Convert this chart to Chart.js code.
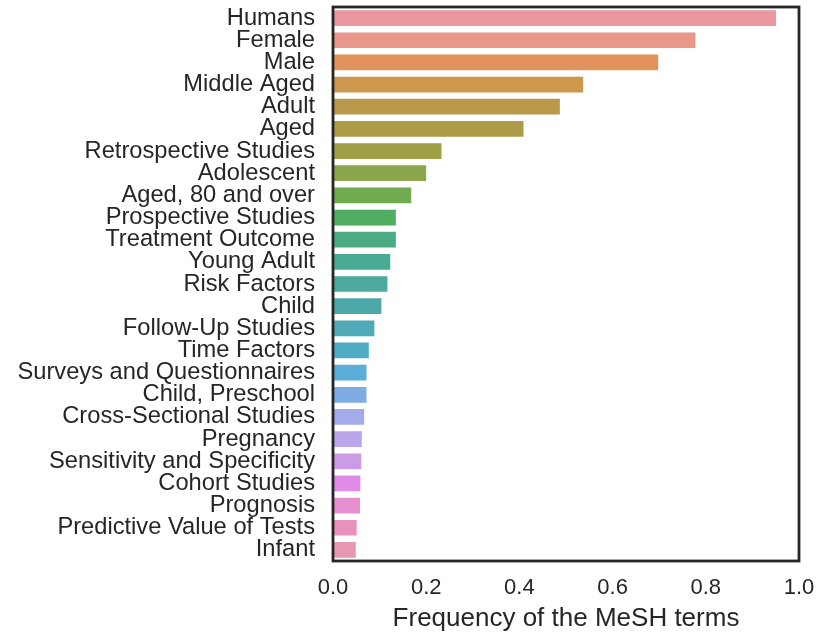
<!DOCTYPE html>
<html>
<head>
<meta charset="utf-8">
<script src="https://cdn.jsdelivr.net/npm/chart.js@4/dist/chart.umd.min.js"></script>
<style>
  html, body { margin: 0; padding: 0; background: #ffffff; }
  #wrap { width: 830px; height: 636px; }
</style>
</head>
<body>
<div id="wrap"><canvas id="meshChart" width="830" height="636"></canvas></div>
<script>
// MeSH terms, most frequent first
const meshTerms = [
  'Humans', 'Female', 'Male', 'Middle Aged', 'Adult', 'Aged',
  'Retrospective Studies', 'Adolescent', 'Aged, 80 and over',
  'Prospective Studies', 'Treatment Outcome', 'Young Adult', 'Risk Factors',
  'Child', 'Follow-Up Studies', 'Time Factors', 'Surveys and Questionnaires',
  'Child, Preschool', 'Cross-Sectional Studies', 'Pregnancy',
  'Sensitivity and Specificity', 'Cohort Studies', 'Prognosis',
  'Predictive Value of Tests', 'Infant'
];

// frequency
const termFrequency = [
  0.953, 0.780, 0.700, 0.539, 0.489, 0.411,
  0.235, 0.202, 0.170,
  0.137, 0.137, 0.125, 0.119,
  0.106, 0.091, 0.079, 0.074,
  0.074, 0.069, 0.064,
  0.063, 0.061, 0.060,
  0.053, 0.051
];

const xTickValues = [0.0, 0.2, 0.4, 0.6, 0.8, 1.0];

// husl palette (desaturated), one colour per bar
const barColours = [
  '#e9969f', '#e8978a', '#e2925b', '#ce974e', '#b99a4c', '#ac9c48',
  '#9da045', '#8ca64b', '#70ac4d', '#4fae62', '#4bac84', '#4aab93',
  '#4daa9e', '#4da9a9', '#4eaab6', '#50acc4', '#5baed8', '#7eade4',
  '#a4abea', '#baa6ea', '#cd9ae6', '#e08ce6', '#e68fd0', '#e991be',
  '#e897b0'
];

const textColour = '#262626';
const fontFamily = '"Liberation Sans", Arial, Helvetica, sans-serif';

// draws the full black frame around the plot
const frameBox = {
  id: 'frameBox',
  afterDatasetsDraw(chart) {
    const a = chart.chartArea;
    const ctx = chart.ctx;
    ctx.save();
    ctx.strokeStyle = textColour;
    ctx.lineWidth = 2.8;
    ctx.strokeRect(a.left, a.top, a.right - a.left, a.bottom - a.top);
    ctx.restore();
  }
};

const ctx = document.getElementById('meshChart').getContext('2d');
new Chart(ctx, {
  type: 'bar',
  data: {
    labels: meshTerms,
    datasets: [{
      data: termFrequency,
      backgroundColor: barColours,
      borderColor: 'rgba(255,255,255,0.35)',
      borderWidth: 1,
      borderSkipped: false,
      categoryPercentage: 1.0,
      barPercentage: 0.8
    }]
  },
  options: {
    indexAxis: 'y',
    responsive: false,
    animation: false,
    devicePixelRatio: 1,
    layout: { padding: { top: 7, right: 31, bottom: 0, left: 0 } },
    plugins: {
      legend: { display: false },
      tooltip: { enabled: false }
    },
    scales: {
      x: {
        min: 0,
        max: 1,
        afterBuildTicks(scale) {
          scale.ticks = xTickValues.map(v => ({ value: v }));
        },
        afterFit(scale) {
          scale.height = 75;
          scale.paddingLeft = 0;
          scale.paddingRight = 0;
        },
        grid: { display: false, drawTicks: false },
        border: { display: false },
        ticks: {
          padding: 14,
          color: textColour,
          font: { family: fontFamily, size: 22 },
          callback: v => Number(v).toFixed(1)
        },
        title: {
          display: true,
          text: 'Frequency of the MeSH terms',
          color: textColour,
          font: { family: fontFamily, size: 26 },
          padding: { top: 0, bottom: 2 }
        }
      },
      y: {
        afterFit(scale) {
          scale.width = 333;
          scale.paddingTop = 0;
          scale.paddingBottom = 0;
        },
        grid: { display: false, drawTicks: false },
        border: { display: false },
        ticks: {
          padding: 18,
          autoSkip: false,
          color: textColour,
          font: { family: fontFamily, size: 23.7 }
        }
      }
    }
  },
  plugins: [frameBox]
});
</script>
</body>
</html>
